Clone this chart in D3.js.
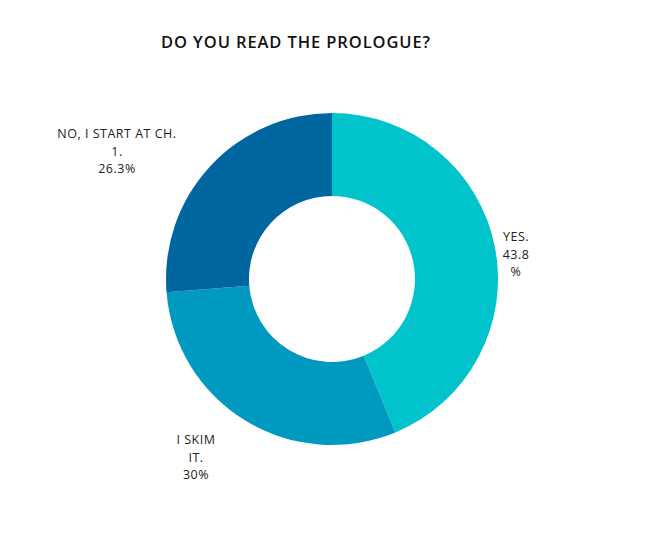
<!DOCTYPE html>
<html><head><meta charset="utf-8">
<script src="https://cdn.jsdelivr.net/npm/d3@7"></script>
<style>body{margin:0;background:#fff}</style>
</head><body>
<svg width="650" height="533"></svg>
<script>
var categories = ["YES.", "I SKIM IT.", "NO, I START AT CH. 1."]
var values = [43.8, 30, 26.3]
var labelLines = [["YES.", "43.8", "%"], ["I SKIM", "IT.", "30%"], ["NO, I START AT CH.", "1.", "26.3%"]]
var colors = ["#00c3cc", "#0099bf", "#00669f"]
var labelPos = [[516, 237], [196, 440], [117, 134]]

var svg = d3.select("svg")
var cx = 332, cy = 279

svg.append("text").attr("x", 296).attr("y", 48).attr("text-anchor", "middle")
	.attr("font-family", "Open Sans").attr("font-weight", 600).attr("font-size", 16.5)
	.attr("letter-spacing", 0.9).attr("fill", "#111").text("DO YOU READ THE PROLOGUE?")

var pie = d3.pie().sort(null)(values)
var arc = d3.arc().innerRadius(83).outerRadius(166)
var g = svg.append("g").attr("transform", "translate(" + cx + "," + cy + ")")
g.selectAll("path").data(pie).enter().append("path")
	.attr("d", arc).attr("fill", function(d, i) { return colors[i] })

labelLines.forEach(function(lines, i) {
	var t = svg.append("text").attr("text-anchor", "middle")
		.attr("font-family", "Open Sans").attr("font-size", 12.5).attr("letter-spacing", 0.5).attr("fill", "#222")
	lines.forEach(function(l, j) {
		t.append("tspan").attr("x", labelPos[i][0]).attr("y", labelPos[i][1] + 4 + j * 17.5).text(l)
	})
})
</script>
</body></html>
